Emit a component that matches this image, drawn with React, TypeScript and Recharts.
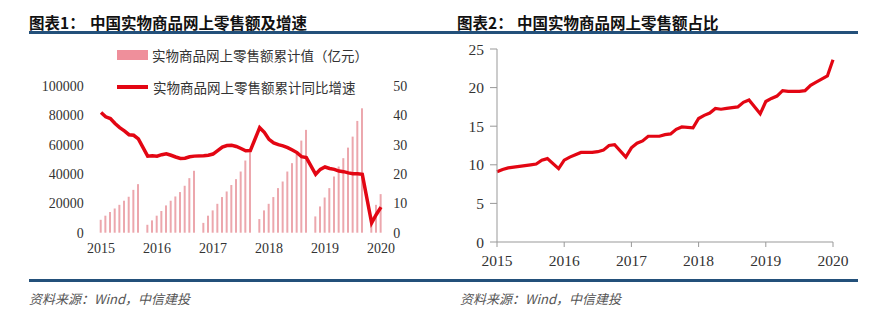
import {
  ComposedChart, LineChart, Bar, Line, XAxis, YAxis,
} from 'recharts'

// 左图：2015-04 ~ 2020-04，1月与2月合并公布（1月为空）
const salesMonths: string[] = []
for (let y = 2015; y <= 2020; y++) {
  for (let m = 1; m <= 12; m++) {
    if ((y === 2015 && m < 4) || (y === 2020 && m > 4)) continue
    salesMonths.push(`${y}-${String(m).padStart(2, '0')}`)
  }
}

// 实物商品网上零售额累计值（亿元）
const sales2015 = [8800, 11600, 14100, 16500, 19000, 21800, 24500, 29200, 33100]
const sales2016 = [null, 5400, 8400, 11600, 14800, 18600, 21800, 24700, 27700, 32000, 37200, 42200]
const sales2017 = [null, 6700, 11600, 15200, 19700, 24300, 28100, 32500, 36500, 41700, 49200, 54900]
const sales2018 = [null, 9300, 15200, 19700, 24300, 30400, 34900, 41700, 47400, 54200, 62800, 70100]
const sales2019 = [null, 11100, 17900, 24000, 30400, 38300, 45100, 50800, 58000, 65500, 76200, 84800]
const sales2020 = [null, 11200, 19000, 26300]

// 实物商品网上零售额累计同比增速（%）
const growth2015 = [41.0, 39.5, 38.9, 37.2, 35.8, 34.7, 33.4, 33.2, 32.0]
const growth2016 = [null, 26.1, 26.2, 26.1, 26.6, 26.9, 26.4, 25.8, 25.3, 25.4, 25.9, 26.1]
const growth2017 = [null, 26.2, 26.4, 26.8, 28.0, 29.2, 29.7, 29.8, 29.4, 28.7, 27.9, 28.0]
const growth2018 = [null, 35.8, 34.2, 31.8, 30.6, 30.0, 29.6, 29.0, 28.2, 27.3, 25.9, 25.6]
const growth2019 = [null, 19.9, 21.6, 22.4, 21.9, 21.6, 21.0, 20.8, 20.4, 20.1, 20.1, 19.9]
const growth2020 = [null, 3.3, 6.2, 8.7]

// 右图：2015-03 ~ 2020-03，占社零比重（%）
const shareMonths: string[] = []
for (let y = 2015; y <= 2020; y++) {
  for (let m = 1; m <= 12; m++) {
    if ((y === 2015 && m < 3) || (y === 2020 && m > 3)) continue
    shareMonths.push(`${y}-${String(m).padStart(2, '0')}`)
  }
}
const share2015 = [9.1, 9.4, 9.6, 9.7, 9.8, 9.9, 10.0, 10.1, 10.6, 10.8]
const share2016 = [null, 9.5, 10.6, 11.0, 11.3, 11.6, 11.6, 11.6, 11.7, 11.9, 12.5, 12.6]
const share2017 = [null, 11.0, 12.2, 12.8, 13.1, 13.7, 13.7, 13.7, 13.9, 14.0, 14.6, 14.9]
const share2018 = [null, 14.8, 16.0, 16.4, 16.7, 17.3, 17.2, 17.3, 17.4, 17.5, 18.1, 18.4]
const share2019 = [null, 16.6, 18.2, 18.6, 18.9, 19.6, 19.5, 19.5, 19.5, 19.6, 20.3, 20.7]
const share2020 = [null, 21.5, 23.6]

const leftTicks = [0, 20000, 40000, 60000, 80000, 100000]
const rightTicks = [0, 10, 20, 30, 40, 50]
const shareTicks = [0, 5, 10, 15, 20, 25]

const sales = [...sales2015, ...sales2016, ...sales2017, ...sales2018, ...sales2019, ...sales2020]
const growth = [...growth2015, ...growth2016, ...growth2017, ...growth2018, ...growth2019, ...growth2020]
const share = [...share2015, ...share2016, ...share2017, ...share2018, ...share2019, ...share2020]

const leftData = salesMonths.map((m, i) => ({ m, sales: sales[i], growth: growth[i] }))
const rightData = shareMonths.map((m, i) => ({ m, share: share[i] }))

const RED = '#E30613'
const PINK = '#EF8F9B'
const BAR = '#ECA7AD'
const RULE = '#23507A'
const serif = '"Liberation Serif", "Times New Roman", serif'
const cjk = '"Noto Sans CJK SC", "Noto Sans", sans-serif'

const year = (v: string) => v.slice(0, 4)

export default function App() {
  const tickL = { fill: '#333', fontSize: 14, fontFamily: serif }
  const tickX = { fill: '#333', fontSize: 14, fontFamily: serif }
  const tickR = { fill: '#333', fontSize: 15.5, fontFamily: serif }
  return (
    <div style={{ position: 'absolute', left: 0, top: 0, width: 891, height: 331, background: '#fff', overflow: 'hidden' }}>
      <div style={{ position: 'absolute', left: 29, top: 11, fontFamily: cjk, fontWeight: 700, fontSize: 15.5, color: '#111', whiteSpace: 'nowrap' }}>图表1：</div>
      <div style={{ position: 'absolute', left: 90, top: 11, fontFamily: cjk, fontWeight: 700, fontSize: 15.5, color: '#111', whiteSpace: 'nowrap' }}>中国实物商品网上零售额及增速</div>
      <div style={{ position: 'absolute', left: 457, top: 11, fontFamily: cjk, fontWeight: 700, fontSize: 15.5, color: '#111', whiteSpace: 'nowrap' }}>图表2：</div>
      <div style={{ position: 'absolute', left: 517, top: 11, fontFamily: cjk, fontWeight: 700, fontSize: 15.5, color: '#111', whiteSpace: 'nowrap' }}>中国实物商品网上零售额占比</div>
      <div style={{ position: 'absolute', left: 29, top: 31, width: 829, height: 3, background: RULE }} />
      <div style={{ position: 'absolute', left: 29, top: 279, width: 829, height: 3, background: RULE }} />

      <div style={{ position: 'absolute', left: 0, top: 0 }}>
        <ComposedChart width={445} height={300} data={leftData} margin={{ top: 86, right: 21.7, bottom: 37.3, left: 38.7 }}>
          <XAxis dataKey="m" interval={11} tickFormatter={year} axisLine={false} tickLine={false} tickSize={0} tickMargin={10} tick={tickX} height={30} />
          <YAxis yAxisId="left" domain={[0, 100000]} ticks={leftTicks} axisLine={false} tickLine={false} tickSize={0} tickMargin={15} width={60} tick={tickL} />
          <YAxis yAxisId="right" orientation="right" domain={[0, 50]} ticks={rightTicks} axisLine={false} tickLine={false} tickSize={0} tickMargin={10} width={40} tick={tickL} />
          <Bar yAxisId="left" dataKey="sales" fill={BAR} barSize={2} isAnimationActive={false} />
          <Line yAxisId="right" type="linear" dataKey="growth" stroke={RED} strokeWidth={3.5} dot={false} connectNulls isAnimationActive={false} />
        </ComposedChart>
      </div>

      <div style={{ position: 'absolute', left: 117, top: 50, width: 31, height: 10, background: PINK }} />
      <div style={{ position: 'absolute', left: 152, top: 46, fontFamily: cjk, fontSize: 13.5, color: '#333', whiteSpace: 'nowrap', lineHeight: '18px' }}>实物商品网上零售额累计值（亿元）</div>
      <div style={{ position: 'absolute', left: 117, top: 85, width: 31, height: 4, background: RED }} />
      <div style={{ position: 'absolute', left: 153, top: 78, fontFamily: cjk, fontSize: 13.5, color: '#333', whiteSpace: 'nowrap', lineHeight: '18px' }}>实物商品网上零售额累计同比增速</div>

      <div style={{ position: 'absolute', left: 440, top: 0 }}>
        <LineChart width={451} height={300} data={rightData} margin={{ top: 49, right: 58, bottom: 28, left: 12 }}>
          <XAxis dataKey="m" scale="point" interval={11} tickFormatter={year} axisLine={{ stroke: '#999' }} tickLine={{ stroke: '#999' }} tickSize={5} tickMargin={8} tick={tickR} height={30} />
          <YAxis domain={[0, 25]} ticks={shareTicks} axisLine={{ stroke: '#999' }} tickLine={{ stroke: '#999' }} tickSize={7} tickMargin={6} width={45} tick={tickR} />
          <Line type="linear" dataKey="share" stroke={RED} strokeWidth={3.2} dot={false} connectNulls isAnimationActive={false} />
        </LineChart>
      </div>

      <div style={{ position: 'absolute', left: 29, top: 289, fontFamily: cjk, fontStyle: 'italic', fontSize: 13, color: '#555', whiteSpace: 'nowrap' }}>资料来源：Wind，中信建投</div>
      <div style={{ position: 'absolute', left: 460, top: 289, fontFamily: cjk, fontStyle: 'italic', fontSize: 13, color: '#555', whiteSpace: 'nowrap' }}>资料来源：Wind，中信建投</div>
    </div>
  )
}
